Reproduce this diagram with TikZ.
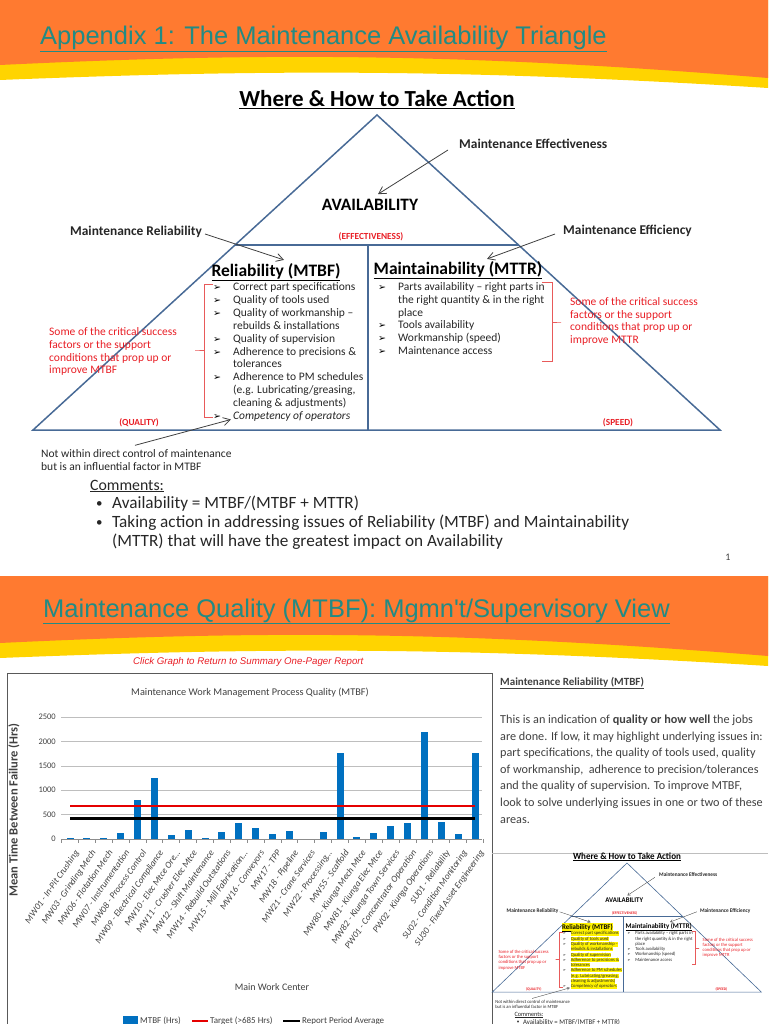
\documentclass[tikz,border=0pt]{standalone}
\usepackage{fontspec}
\setmainfont{Carlito}
\newfontfamily\arialfont{Liberation Sans}
\newfontfamily\dingfont{DejaVu Sans}
\usetikzlibrary{arrows.meta, calc, positioning}

\definecolor{bandorange}{RGB}{255,122,48}
\definecolor{bandyellow}{RGB}{255,212,0}
\definecolor{titleteal}{RGB}{34,139,132}
\definecolor{triblue}{RGB}{72,106,150}
\definecolor{alertred}{RGB}{232,30,37}
\definecolor{bracered}{RGB}{232,90,90}
\definecolor{barblue}{RGB}{0,112,192}
\definecolor{gridgray}{RGB}{190,190,190}
\definecolor{textgray}{RGB}{64,64,64}

\newcommand\fsz[2]{\fontsize{#1}{#2}\selectfont}
\newcommand\hl[1]{#1}

\tikzset{
  slidetitle/.style={anchor=base west, inner sep=0pt, text=titleteal,
    font=\arialfont\fsz{25.5}{30}},
  headline/.style={inner sep=0pt, font=\bfseries\fsz{23}{26}},
  triline/.style={draw=triblue, line width=1.5pt},
  calloutlabel/.style={inner sep=0pt, font=\bfseries\fsz{13.4}{16}, text=black!85},
  calloutarrow/.style={-{Straight Barb[length=7pt,width=8pt]}, draw=black!75,
    line width=0.8pt},
  bigcaps/.style={inner sep=0pt, font=\bfseries\fsz{17.4}{20}},
  tagtext/.style={inner sep=0pt, text=alertred, font=\bfseries\fsz{9.3}{11}},
  colhead/.style={inner sep=0pt, font=\bfseries\fsz{17.5}{20}},
  listline/.style={anchor=base west, inner sep=0pt, font=\fsz{11.5}{12.9},
    text=black!85},
  listbullet/.style={anchor=base west, inner sep=0pt, font=\dingfont\fsz{9.5}{11}},
  noteline/.style={listline, text=alertred},
  redbrace/.style={draw=bracered, line width=0.8pt},
  commenttext/.style={anchor=base west, inner sep=0pt, font=\fsz{17.2}{19},
    text=black!85},
  clicknote/.style={anchor=west, inner sep=0pt, text=alertred,
    font=\arialfont\itshape\fsz{9.7}{11}},
  chartframe/.style={draw=black!65, line width=1pt},
  gridline/.style={draw=gridgray, line width=0.6pt},
  ticklabel/.style={anchor=east, inner sep=0pt, text=textgray, font=\fsz{8.5}{10}},
  xlab/.style={anchor=north east, rotate=55, inner sep=0pt, text=textgray,
    font=\itshape\fsz{9.2}{11}},
  mtbfbar/.style={fill=barblue},
  targetline/.style={draw=red!90!black, line width=2.5pt},
  avgline/.style={draw=black, line width=3pt},
  charttext/.style={inner sep=0pt, text=textgray, font=\fsz{10.3}{12}},
  legendtext/.style={anchor=west, inner sep=0pt, text=textgray, font=\fsz{9}{11}},
  boxline/.style={anchor=base west, inner sep=0pt, text=textgray,
    font=\fsz{12.2}{14}},
}

% the availability triangle (drawn full size, then again as a thumbnail)
\newcommand\wheretriangle{%
  \node[headline] (head) at (377,100) {\underline{Where \& How to Take Action}};
  \coordinate (apex) at (377,115);
  \coordinate (bl) at (33,430);
  \coordinate (br) at (720,430);
  \coordinate (ml) at ($(bl)!0.587!(apex)$);
  \coordinate (mr) at ($(br)!0.587!(apex)$);
  \coordinate (mt) at (368,245);
  \coordinate (mb) at (368,430);
  \draw[triline] (apex) -- (br) -- (bl) -- cycle;
  \draw[triline] (ml) -- (mr);
  \draw[triline] (mt) -- (mb);
  \node[bigcaps] (avail) at (370,205) {AVAILABILITY};
  \node[tagtext] (effect) at (371,237) {(EFFECTIVENESS)};
  \node[tagtext] (quality) at (139,423) {(QUALITY)};
  \node[tagtext] (speed) at (618,423) {(SPEED)};
  % callouts
  \node[calloutlabel, anchor=west] (effness) at (459,144) {Maintenance Effectiveness};
  \node[calloutlabel, anchor=east] (relness) at (202,232) {Maintenance Reliability};
  \node[calloutlabel, anchor=west] (effcy) at (563,231) {Maintenance Efficiency};
  \node[colhead] (relhead) at (276,272) {\hl{\underline{Reliability (MTBF)}}};
  \node[colhead] (mainhead) at (458,270) {\underline{Maintainability (MTTR)}};
  \draw[calloutarrow] ([xshift=-11pt,yshift=-6pt]effness.west)
    -- ([xshift=8pt,yshift=5pt]avail.north);
  \draw[calloutarrow] ([xshift=3pt,yshift=-2pt]relness.east)
    -- ([xshift=8pt,yshift=3pt]relhead.north);
  \draw[calloutarrow] ([xshift=-8pt,yshift=-3pt]effcy.west)
    -- ([xshift=29pt,yshift=2pt]mainhead.north);
  % reliability list
  \foreach \t [count=\i from 0] in {{Correct part specifications},
      {Quality of tools used},{Quality of workmanship --},
      {rebuilds \& installations},{Quality of supervision},
      {Adherence to precisions \&},{tolerances},{Adherence to PM schedules},
      {(e.g. Lubricating/greasing,},{cleaning \& adjustments)},
      {\itshape Competency of operators}}
    \node[listline] (rel-\i) at (233,{290.5+12.9*\i}) {\hl{\t}};
  \foreach \i in {0,1,2,4,5,7,10}
    \node[listbullet] (relb-\i) at (213,{290.5+12.9*\i}) {➢};
  % maintainability list
  \foreach \t [count=\i from 0] in {{Parts availability -- right parts in},
      {the right quantity \& in the right},{place},{Tools availability},
      {Workmanship (speed)},{Maintenance access}}
    \node[listline] (mnt-\i) at (398,{290.5+12.8*\i}) {\t};
  \foreach \i in {0,3,4,5}
    \node[listbullet] (mntb-\i) at (378,{290.5+12.8*\i}) {➢};
  % red notes and braces
  \foreach \t [count=\i from 0] in {Some of the critical success,
      factors or the support, conditions that prop up or, improve MTBF}
    \node[noteline] (noteL-\i) at (49,{335.5+12.8*\i}) {\t};
  \foreach \t [count=\i from 0] in {Some of the critical success,
      factors or the support, conditions that prop up or, improve MTTR}
    \node[noteline] (noteR-\i) at (570,{305.5+12.7*\i}) {\t};
  \draw[redbrace] (213,284) -- (204,284) -- (204,350) -- (195,350)
    -- (204,350) -- (204,417) -- (213,417);
  \draw[redbrace] (542,282) -- (552,282) -- (552,322) -- (561,322)
    -- (552,322) -- (552,361) -- (542,361);
  % outside note
  \node[listline] (nw-0) at (41,457.5) {Not within direct control of maintenance};
  \node[listline] (nw-1) at (41,470.5) {but is an influential factor in MTBF};
  \draw[calloutarrow] ([xshift=94pt,yshift=4pt]nw-0.north west)
    -- ([xshift=-2pt,yshift=-3pt]rel-10.west);
  % comments
  \node[commenttext, font=\fsz{15.8}{18}] (commhead) at (90,490) {\underline{Comments:}};
  \node[commenttext, font=\fsz{13}{19}] (cb-1) at (96,507) {\textbullet};
  \node[commenttext] (cm-1) at (112,508) {Availability = MTBF/(MTBF + MTTR)};
  \node[commenttext, font=\fsz{13}{19}] (cb-2) at (96,526) {\textbullet};
  \node[commenttext] (cm-2) at (112,527)
    {Taking action in addressing issues of Reliability (MTBF) and Maintainability};
  \node[commenttext] (cm-3) at (112,546)
    {(MTTR) that will have the greatest impact on Availability};
}

\begin{document}
\begin{tikzpicture}[x=1pt, y=-1pt]
  \useasboundingbox (0,0) rectangle (768,1024);
  \clip (0,0) rectangle (768,1024);

  % orange and yellow header bands
  \foreach \by in {0,578} {
    \fill[bandyellow] (0,\by-2) -- (768,\by-2) -- (768,\by+88)
      .. controls (450,\by+68) and (250,\by+70) .. (0,\by+80) -- cycle;
    \fill[bandorange] (0,\by-2) -- (768,\by-2) -- (768,\by+78)
      .. controls (450,\by+52) and (250,\by+53) .. (0,\by+65) -- cycle;
  }
  \node[slidetitle] (title1) at (40,45)
    {\underline{Appendix 1: The Maintenance Availability Triangle}};
  \node[slidetitle] (title2) at (43,617)
    {\underline{Maintenance Quality (MTBF): Mgmn't/Supervisory View}};

  % slide 1
  \wheretriangle
  \node[charttext, font=\fsz{10}{12}] (pnum) at (728,557) {1};

  % slide 2
  \node[clicknote] (click) at (133,662)
    {Click Graph to Return to Summary One-Pager Report};
  \draw[chartframe] (7,673) rectangle (492,1040);
  \node[charttext] (ctitle) at (250,693)
    {Maintenance Work Management Process Quality (MTBF)};
  \foreach \g in {500,1000,...,2500}
    \draw[gridline] (61,{839-0.0488*\g}) -- (482,{839-0.0488*\g});
  \foreach \g in {0,500,...,2500}
    \node[ticklabel] (yt-\g) at (56,{839-0.0488*\g}) {\g};
  \foreach \v [count=\i from 0] in {15,30,30,120,800,1250,80,190,15,150,330,220,
      100,170,0,140,1760,50,130,260,330,2200,340,100,1760}
    \fill[mtbfbar] ({66.5+16.875*\i},839) rectangle ({73.5+16.875*\i},{839-0.0488*\v});
  \draw[draw=black!45, line width=0.8pt] (61,839) -- (482,839);
  \foreach \k in {0,...,25}
    \draw[draw=black!45, line width=0.6pt] ({61.5+16.875*\k},839) -- ({61.5+16.875*\k},843);
  \coordinate (tgt-a) at (70,806);
  \coordinate (tgt-b) at (475,806);
  \coordinate (avg-a) at (70,818);
  \coordinate (avg-b) at (475,818);
  \draw[targetline] (tgt-a) -- (tgt-b);
  \draw[avgline] (avg-a) -- (avg-b);
  \foreach \lab [count=\i from 0] in {MW01 - In-Pit Crushing, MW03 - Grinding Mech,
      MW06 - Flotation Mech, MW07 - Instrumentation, MW08 - Process Control,
      MW09 - Electrical Compliance, {MW10 - Elec Mtce Ore\ldots}, MW11 - Crusher Elec Mtce,
      MW12 - Shift Maintenance, MW14 - Rebuild Outstations, {MW15 - Mill Fabrication\ldots},
      MW16 - Conveyors, MW17 - TPP, MW18 - Pipeline, MW21 - Crane Services,
      {MW22 - Processing\ldots}, MW55 - Scaffold, MW80 - Kiunga Mech Mtce,
      MW81 - Kiunga Elec Mtce, MW82 - Kiunga Town Services,
      PW01 - Concentrator Operation, PW02 - Kiunga Operations, SU01 - Reliability,
      SU02 - Condition Monitoring, SU30 - Fixed Asset Engineering}
    \node[xlab] (wc-\i) at ({74+16.875*\i},849) {\lab};
  \node[charttext, rotate=90, font=\bfseries\fsz{12.5}{14}] (ytitle) at (14,810)
    {Mean Time Between Failure (Hrs)};
  \node[charttext, font=\fsz{10}{12}] (xtitle) at (272,987) {Main Work Center};
  % legend
  \fill[mtbfbar] (123,1016) rectangle (138,1027);
  \node[legendtext] (lg-1) at (140,1021) {MTBF (Hrs)};
  \coordinate (lg-r) at (192,1021);
  \draw[red!90!black, line width=2pt] (lg-r) -- ++(16,0);
  \node[legendtext] (lg-2) at (210,1021) {Target (>685 Hrs)};
  \coordinate (lg-k) at (283,1021);
  \draw[black, line width=2pt] (lg-k) -- ++(17,0);
  \node[legendtext] (lg-3) at (302,1021) {Report Period Average};

  % side panel
  \node[boxline, anchor=west, font=\bfseries\fsz{11}{13}] (rbhead) at (500,683)
    {\underline{Maintenance Reliability (MTBF)}};
  \foreach \t [count=\i from 0] in {{This is an indication of \textbf{quality or how well} the jobs},
      {are done. If low, it may highlight underlying issues in:},
      {part specifications, the quality of tools used, quality},
      {of workmanship,\ \ adherence to precision/tolerances},
      {and the quality of supervision. To improve MTBF,},
      {look to solve underlying issues in one or two of these},{areas.}}
    \node[boxline] (rb-\i) at (500,{723.5+16.6*\i}) {\t};
  \draw[gridline] (492,853) -- (768,853);
  \begin{scope}[shift={(627,863)}, xscale=0.392, yscale=0.41, shift={(-377,-115)},
      transform shape, name prefix=mini-,
      triline/.style={draw=triblue, line width=0.6pt},
      calloutarrow/.style={-{Straight Barb[length=2.5pt,width=3pt]}, draw=black!75,
        line width=0.35pt},
      redbrace/.style={draw=bracered, line width=0.35pt}]
    \renewcommand\hl[1]{{\fboxsep=0.6pt\colorbox{yellow}{#1}}}
    \wheretriangle
  \end{scope}
\end{tikzpicture}
\end{document}
